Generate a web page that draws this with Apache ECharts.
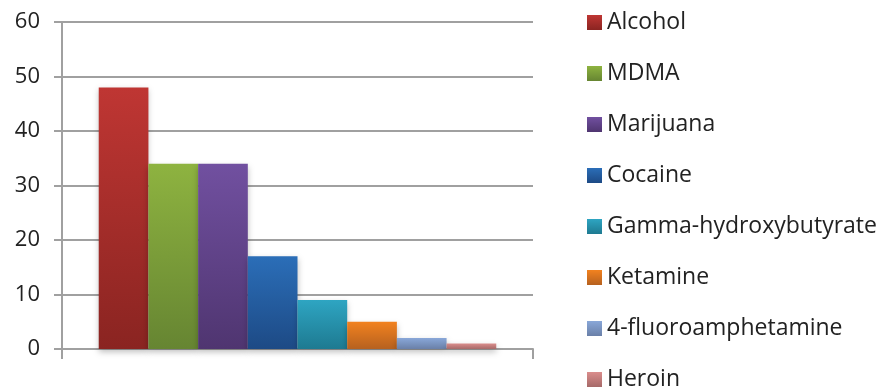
<!DOCTYPE html>
<html><head><meta charset="utf-8">
<script src="https://cdn.jsdelivr.net/npm/echarts@6/dist/echarts.min.js"></script>
<style>html,body{margin:0;padding:0;background:#fff}#c{width:877px;height:391px}</style>
</head><body><div id="c"></div>
<script>
const drugs = ["Alcohol","MDMA","Marijuana","Cocaine","Gamma-hydroxybutyrate","Ketamine","4-fluoroamphetamine","Heroin"];
const values = [48, 34, 34, 17, 9, 5, 2, 1];
const topColors = ["#BF3633","#8EB340","#7150A0","#2B6EB8","#2EA5C2","#F2821F","#89A7D8","#DA8D8C"];
const bottomColors = ["#8A2421","#668532","#4F3570","#1D4A85","#1E7A91","#B6611F","#6A80A8","#A66968"];
const yTicks = [0, 10, 20, 30, 40, 50, 60];

const FONT = '"Open Sans", sans-serif';
const chart = echarts.init(document.getElementById('c'));
const series = drugs.map((name, i) => ({
  name: name,
  type: 'bar',
  data: [values[i]],
  barGap: '0%',
  barCategoryGap: '15.6%',
  itemStyle: {
    color: new echarts.graphic.LinearGradient(0, 0, 0, 1, [
      {offset: 0, color: topColors[i]},
      {offset: 1, color: bottomColors[i]}
    ]),
    shadowColor: 'rgba(0,0,0,0.25)',
    shadowBlur: 6,
    shadowOffsetY: 3
  },
  emphasis: {disabled: true}
}));

chart.setOption({
  animation: false,
  grid: {left: 62, right: 344, top: 22, bottom: 42},
  xAxis: {
    type: 'category',
    data: [''],
    axisLine: {lineStyle: {color: '#A0A0A0', width: 2}},
    axisTick: {show: true, length: 10, lineStyle: {color: '#A0A0A0', width: 2}},
    axisLabel: {show: false}
  },
  yAxis: {
    type: 'value',
    min: yTicks[0],
    max: yTicks[yTicks.length - 1],
    interval: 10,
    axisLine: {show: true, lineStyle: {color: '#A0A0A0', width: 2}},
    axisTick: {show: true, length: 8, lineStyle: {color: '#A0A0A0', width: 2}},
    axisLabel: {margin: 22, fontSize: 22, color: '#222', fontFamily: FONT},
    splitLine: {lineStyle: {color: '#A0A0A0', width: 2}}
  },
  legend: {
    orient: 'vertical',
    left: 582,
    top: 6,
    height: 440,
    itemWidth: 15,
    itemHeight: 15,
    itemGap: 28,
    icon: 'rect',
    data: drugs,
    textStyle: {fontSize: 23, color: '#222', fontFamily: FONT}
  },
  series: series
});
</script></body></html>
